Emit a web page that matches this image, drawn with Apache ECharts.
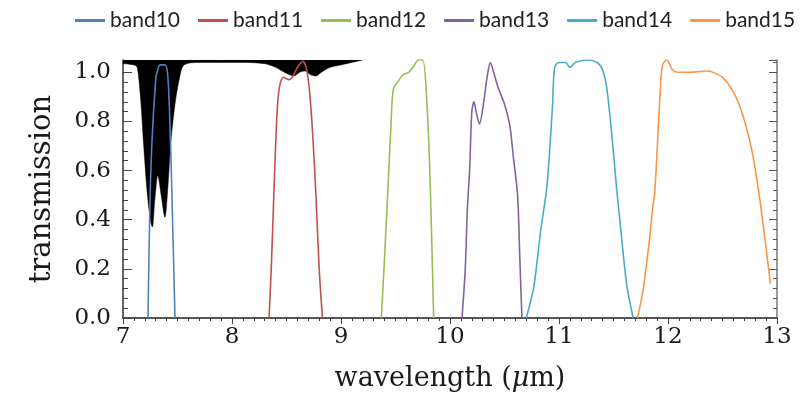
<!DOCTYPE html>
<html>
<head>
<meta charset="utf-8">
<script src="https://cdn.jsdelivr.net/npm/echarts@6/dist/echarts.min.js"></script>
<style>html,body{margin:0;padding:0;background:#fff;}#c{width:811px;height:401px;}</style>
</head>
<body>
<div id="c"></div>
<script>
// wavelength (µm) / transmission pairs
const band10 = [[7.229,0],[7.248,0.48],[7.266,0.72],[7.30,0.97],[7.312,1.0],[7.34,1.03],[7.385,1.03],[7.41,0.99],[7.43,0.8],[7.45,0.48],[7.477,0]];
const band11 = [[8.34,0],[8.36,0.2],[8.38,0.45],[8.40,0.7],[8.42,0.88],[8.44,0.95],[8.47,0.98],[8.52,0.97],[8.56,0.985],[8.60,1.02],[8.65,1.045],[8.68,1.02],[8.71,0.93],[8.74,0.75],[8.77,0.5],[8.80,0.2],[8.83,0]];
const band12 = [[9.37,0],[9.40,0.25],[9.43,0.52],[9.46,0.8],[9.48,0.93],[9.52,0.96],[9.57,0.99],[9.62,1.0],[9.66,1.02],[9.71,1.05],[9.75,1.05],[9.79,0.86],[9.82,0.52],[9.85,0]];
const band13 = [[10.11,0],[10.14,0.2],[10.16,0.45],[10.18,0.6],[10.20,0.84],[10.22,0.88],[10.24,0.84],[10.27,0.79],[10.31,0.88],[10.34,0.98],[10.37,1.04],[10.40,1.0],[10.44,0.94],[10.50,0.87],[10.55,0.78],[10.58,0.66],[10.62,0.5],[10.64,0.25],[10.66,0]];
const band14 = [[10.70,0],[10.77,0.13],[10.83,0.35],[10.89,0.54],[10.94,0.86],[10.96,1.02],[11.0,1.04],[11.06,1.04],[11.10,1.02],[11.15,1.04],[11.26,1.05],[11.35,1.04],[11.40,1.01],[11.44,0.93],[11.49,0.72],[11.53,0.52],[11.56,0.39],[11.62,0.14],[11.68,0]];
const band15 = [[11.72,0],[11.77,0.11],[11.83,0.32],[11.86,0.45],[11.88,0.52],[11.93,0.93],[11.95,1.03],[11.99,1.05],[12.04,1.01],[12.09,1.0],[12.20,1.0],[12.36,1.005],[12.41,1.0],[12.50,0.98],[12.60,0.92],[12.69,0.82],[12.77,0.68],[12.83,0.52],[12.87,0.39],[12.94,0.14]];
// atmospheric absorption (black fill from the curve up to the top of the frame)
const atmosphere = [[7.0,1.035],[7.1,1.03],[7.13,1.02],[7.16,0.9],[7.19,0.7],[7.22,0.52],[7.25,0.4],[7.27,0.37],[7.29,0.47],[7.32,0.58],[7.35,0.5],[7.385,0.41],[7.41,0.52],[7.44,0.72],[7.48,0.88],[7.52,0.98],[7.56,1.03],[7.7,1.04],[7.9,1.04],[8.1,1.04],[8.3,1.035],[8.4,1.02],[8.48,1.0],[8.53,0.99],[8.57,0.985],[8.62,1.0],[8.67,1.005],[8.72,0.99],[8.77,0.985],[8.82,1.0],[8.9,1.02],[9.0,1.03],[9.1,1.04],[9.2,1.05]];
const bandNames = ['band10','band11','band12','band13','band14','band15'];
const bandColors = ['#4F81BD','#C0504D','#9BBB59','#8064A2','#4BACC6','#F79646'];
const yTicks = [0,0.2,0.4,0.6,0.8,1.0];

const chart = echarts.init(document.getElementById('c'), null, {renderer:'canvas'});
const bands = [band10,band11,band12,band13,band14,band15];
const serif = 'DejaVu Serif';
const series = [{
  name:'atm', type:'line', data: atmosphere, smooth:0.3, symbol:'none',
  lineStyle:{color:'#000', width:0.5}, areaStyle:{color:'#000', origin:'end', opacity:1},
  silent:true, z:1
}];
bands.forEach((b,i)=>series.push({
  name: bandNames[i], type:'line', data:b, smooth:0.3, symbol:'none',
  color: bandColors[i], lineStyle:{width:1.6, color:bandColors[i]}, z:3
}));

chart.setOption({
  animation:false,
  legend:{data:bandNames, left:70, top:5, width:760, icon:'rect', itemWidth:30, itemHeight:3, itemGap:18,
    textStyle:{fontFamily:'Lato', fontSize:21, color:'#222'}},
  grid:{left:123, right:34, top:60, bottom:83},
  xAxis:[{
    type:'value', min:7, max:13, interval:1, position:'bottom',
    axisLine:{lineStyle:{color:'#222', width:1.5}}, axisTick:{show:false}, splitLine:{show:false},
    axisLabel:{fontFamily:serif, fontSize:23, color:'#1a1a1a', margin:8},
    name:'{n|wavelength (}{i|μ}{n|m)}', nameLocation:'middle', nameGap:47,
    nameTextStyle:{rich:{n:{fontFamily:serif, fontSize:27, color:'#1a1a1a'}, i:{fontFamily:serif, fontSize:27, fontStyle:'italic', color:'#1a1a1a'}}}
  },{
    type:'value', min:7, max:13, interval:1, position:'top',
    axisLine:{lineStyle:{color:'#555', width:1.5}}, axisLabel:{show:false}, splitLine:{show:false},
    axisTick:{inside:true, length:6, lineStyle:{color:'#444'}},
    minorTick:{show:true, splitNumber:10, length:3, lineStyle:{color:'#444'}}
  }],
  yAxis:[{
    type:'value', min:0, max:1.05, interval:0.2, position:'left',
    axisLine:{lineStyle:{color:'#333', width:1.5}}, splitLine:{show:false},
    axisTick:{inside:true, length:9, lineStyle:{color:'#444'}},
    minorTick:{show:true, splitNumber:5, length:5, lineStyle:{color:'#444'}},
    axisLabel:{fontFamily:serif, fontSize:23, color:'#1a1a1a', margin:12, showMaxLabel:false,
      formatter:v=> yTicks.some(t=>Math.abs(t-v)<1e-9) ? v.toFixed(1) : ''},
    name:'transmission', nameLocation:'middle', nameGap:66, nameRotate:90,
    nameTextStyle:{fontFamily:serif, fontSize:29, color:'#1a1a1a'}
  },{
    type:'value', min:0, max:1.05, interval:0.2, position:'right',
    axisLine:{lineStyle:{color:'#777', width:1.5}}, splitLine:{show:false}, axisLabel:{show:false},
    axisTick:{inside:true, length:8, lineStyle:{color:'#555'}},
    minorTick:{show:true, splitNumber:5, length:4, lineStyle:{color:'#555'}}
  }],
  series: series
});
</script>
</body>
</html>
